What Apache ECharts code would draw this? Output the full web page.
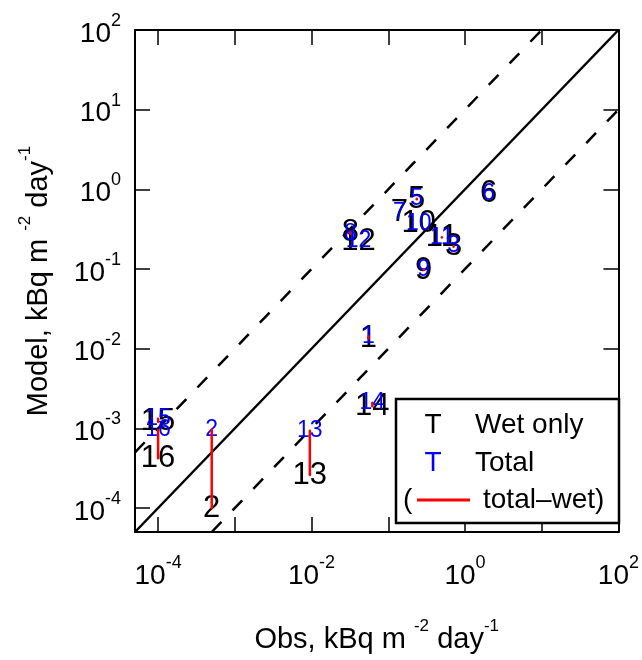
<!DOCTYPE html>
<html>
<head>
<meta charset="utf-8">
<script src="https://cdn.jsdelivr.net/npm/echarts@6/dist/echarts.min.js"></script>
<style>
  html, body { margin: 0; padding: 0; background: #fff; }
  #chart { width: 642px; height: 660px; }
</style>
</head>
<body>
<div id="chart"></div>
<script>
// site numbers and values (kBq m-2 day-1)
const siteIds  = ['1', '2', '3', '5', '6', '7', '8', '9', '10', '11', '12', '13', '14', '15', '16'];
const obsVals  = [0.055, 5.0e-4, 0.71, 0.235, 2.03, 0.14, 0.032, 0.29, 0.25, 0.50, 0.041, 0.0095, 0.062, 1.0e-4, 1.0e-4];
const wetModel = [0.0135, 1.0e-4, 0.19, 0.75, 0.89, 0.51, 0.29, 0.097, 0.37, 0.249, 0.224, 2.6e-4, 1.9e-3, 1.21e-3, 4.2e-4];
const totModel = [0.0142, 9.6e-4, 0.194, 0.76, 0.89, 0.51, 0.28, 0.098, 0.37, 0.25, 0.224, 9.3e-4, 2.1e-3, 1.32e-3, 9.5e-4];

const axisMin = 5e-5;
const axisMax = 100;
const decadeTicks = [1e-4, 1e-3, 1e-2, 1e-1, 1, 10, 100];
const xLabelTicks = [1e-4, 1e-2, 1, 100];
const yLabelTicks = decadeTicks;
// 1:1 line and factor-of-10 lines
const refFactors = [1, 10, 0.1];

const FONT = 'Liberation Sans, Arial, Helvetica, sans-serif';

function powLabel(v) {
  const e = Math.round(Math.log10(v));
  return '{b|10}{s|' + e + '}';
}
const tickRich = {
  b: { fontSize: 28, fontFamily: FONT, color: '#000', padding: [8, 0, 0, 0] },
  s: { fontSize: 18, fontFamily: FONT, color: '#000', verticalAlign: 'top' }
};
const nameRich = {
  n: { fontSize: 29, fontFamily: FONT, color: '#000', padding: [7, 0, 0, 0] },
  s: { fontSize: 17, fontFamily: FONT, color: '#000', verticalAlign: 'top' }
};

function refLine(f) {
  const x0 = Math.max(axisMin, axisMin / f);
  const x1 = Math.min(axisMax, axisMax / f);
  return [[x0, x0 * f], [x1, x1 * f]];
}

function baseAxis(pos, showLabel, labelTicks) {
  return {
    type: 'log',
    logBase: 10,
    min: axisMin,
    max: axisMax,
    position: pos,
    axisLine: { show: true, lineStyle: { color: '#000', width: 2 } },
    axisTick: { show: true, inside: true, length: 15, customValues: decadeTicks,
                lineStyle: { color: '#000', width: 1.5 } },
    axisLabel: { show: showLabel, customValues: labelTicks, formatter: powLabel,
                 rich: tickRich, margin: 14 },
    splitLine: { show: false },
    minorTick: { show: false }
  };
}

const chart = echarts.init(document.getElementById('chart'));

const xBottom = Object.assign(baseAxis('bottom', true, xLabelTicks), {
  name: '{n|Obs, kBq m }{s|-2}{n| day}{s|-1}',
  nameLocation: 'middle',
  nameGap: 86,
  nameTextStyle: { rich: nameRich }
});
xBottom.axisLabel.margin = 22;
const yLeft = Object.assign(baseAxis('left', true, yLabelTicks), {
  name: '{n|Model, kBq m }{s|-2}{n| day}{s|-1}',
  nameLocation: 'middle',
  nameGap: 82,
  nameTextStyle: { rich: nameRich }
});

const series = refFactors.map((f) => ({
  type: 'line',
  data: refLine(f),
  symbol: 'none',
  silent: true,
  z: 1,
  lineStyle: { color: '#000', width: 2.5, type: f === 1 ? 'solid' : [14, 16] }
}));

function textSeries(name, vals, size, color, z) {
  return {
    type: 'scatter',
    name: name,
    data: siteIds.map((id, i) => [obsVals[i], vals[i], id]),
    symbolSize: 1,
    itemStyle: { color: 'rgba(0,0,0,0)', opacity: 1 },
    z: z,
    label: { show: true, position: 'inside', formatter: (p) => p.value[2],
             fontSize: size, fontFamily: FONT, color: color, opacity: 1,
             textBorderWidth: 0 }
  };
}
series.push(textSeries('Wet only', wetModel, 31, '#000000', 2));
series.push(textSeries('Total', totModel, 23, '#0000ff', 3));

// red segments total -> wet
series.push({
  type: 'custom',
  z: 4,
  silent: true,
  data: siteIds.map((id, i) => [obsVals[i], totModel[i], wetModel[i]]),
  renderItem: (params, api) => {
    const p1 = api.coord([api.value(0), api.value(1)]);
    const p2 = api.coord([api.value(0), api.value(2)]);
    return {
      type: 'line',
      shape: { x1: p1[0], y1: p1[1], x2: p2[0], y2: p2[1] },
      style: { stroke: '#ff0000', lineWidth: 2.5, lineCap: 'round' }
    };
  }
});

chart.setOption({
  animation: false,
  backgroundColor: '#fff',
  grid: { left: 135, top: 30, width: 484, height: 502 },
  xAxis: [xBottom, baseAxis('top', false, [])],
  yAxis: [yLeft, baseAxis('right', false, [])],
  series: series,
  graphic: [
    { type: 'rect', z: 10, shape: { x: 396, y: 399, width: 223, height: 124 },
      style: { fill: '#fff', stroke: '#000', lineWidth: 2.5 } },
    { type: 'text', z: 11, x: 433, y: 425,
      style: { text: 'T', fill: '#000', font: '28px ' + FONT, align: 'center', verticalAlign: 'middle' } },
    { type: 'text', z: 11, x: 475, y: 425,
      style: { text: 'Wet only', fill: '#000', font: '28px ' + FONT, verticalAlign: 'middle' } },
    { type: 'text', z: 11, x: 433, y: 463,
      style: { text: 'T', fill: '#0000ff', font: '28px ' + FONT, align: 'center', verticalAlign: 'middle' } },
    { type: 'text', z: 11, x: 475, y: 463,
      style: { text: 'Total', fill: '#000', font: '28px ' + FONT, verticalAlign: 'middle' } },
    { type: 'text', z: 11, x: 403, y: 500,
      style: { text: '(', fill: '#000', font: '28px ' + FONT, verticalAlign: 'middle' } },
    { type: 'line', z: 11, shape: { x1: 417, y1: 500, x2: 470, y2: 500 },
      style: { stroke: '#ff0000', lineWidth: 3 } },
    { type: 'text', z: 11, x: 483, y: 500,
      style: { text: 'total\u2013wet)', fill: '#000', font: '28px ' + FONT, verticalAlign: 'middle' } }
  ]
});
</script>
</body>
</html>
